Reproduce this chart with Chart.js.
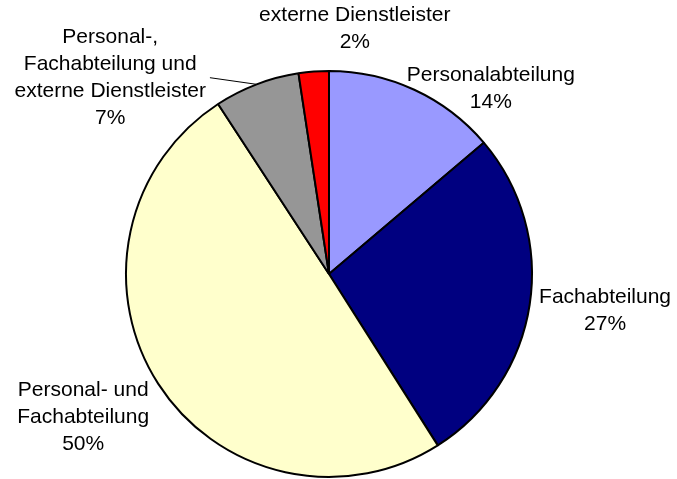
<!DOCTYPE html>
<html>
<head>
<meta charset="utf-8">
<script src="https://cdn.jsdelivr.net/npm/chart.js@4"></script>
<style>
  body { margin: 0; background: #fff; }
  #wrap { width: 677px; height: 479px; }
</style>
</head>
<body>
<div id="wrap"><canvas id="pie" width="677" height="479"></canvas></div>
<script>
// daten
const categories = ['Personalabteilung', 'Fachabteilung', 'Personal- und Fachabteilung',
  'Personal-, Fachabteilung und externe Dienstleister', 'externe Dienstleister'];
const values = [13.8, 27.2, 49.8, 6.8, 2.4];
const labelLines = [
  ['Personalabteilung'],
  ['Fachabteilung'],
  ['Personal- und', 'Fachabteilung'],
  ['Personal-,', 'Fachabteilung und', 'externe Dienstleister'],
  ['externe Dienstleister']
];
const colors = ['#9999FF', '#000080', '#FFFFCC', '#969696', '#FF0000'];

// wo die beschriftung sitzt: winkel (grad ab 12 uhr) und abstand relativ zum radius
const labelAngle = [41.2, 97.6, 239.8, 311.9, 6.0];
const labelDist = [1.21, 1.372, 1.401, 1.448, 1.217];
const leader = [false, false, false, true, false];

const total = values.reduce((a, b) => a + b, 0);

const labelPlugin = {
  id: 'pieLabels',
  afterDatasetsDraw(chart) {
    const ctx = chart.ctx;
    const arcs = chart.getDatasetMeta(0).data;
    const lh = 27;
    ctx.save();
    ctx.font = '21px "Liberation Sans", Arial, sans-serif';
    ctx.fillStyle = '#000';
    ctx.textAlign = 'center';
    ctx.textBaseline = 'middle';
    arcs.forEach((arc, i) => {
      const r = arc.outerRadius;
      const a = labelAngle[i] * Math.PI / 180;
      const cx = arc.x + Math.sin(a) * r * labelDist[i];
      const cy = arc.y - Math.cos(a) * r * labelDist[i];
      const lines = labelLines[i].concat([Math.round(values[i] / total * 100) + '%']);
      const y0 = cy - (lines.length - 1) * lh / 2;
      let maxW = 0;
      lines.forEach((t, k) => {
        ctx.fillText(t, cx, y0 + k * lh);
        maxW = Math.max(maxW, ctx.measureText(t).width);
      });
      if (leader[i]) {
        // linie zum segment
        const mid = (arc.startAngle + arc.endAngle) / 2;
        const ex = arc.x + Math.cos(mid) * r;
        const ey = arc.y + Math.sin(mid) * r;
        ctx.strokeStyle = '#000';
        ctx.lineWidth = 1;
        ctx.beginPath();
        ctx.moveTo(cx + maxW / 2 + 4, cy);
        ctx.lineTo(ex, ey);
        ctx.stroke();
      }
    });
    ctx.restore();
  }
};

new Chart(document.getElementById('pie'), {
  type: 'pie',
  data: {
    labels: categories,
    datasets: [{
      data: values,
      backgroundColor: colors,
      borderColor: '#000',
      borderWidth: 2
    }]
  },
  options: {
    responsive: false,
    animation: false,
    radius: 203,
    layout: { padding: { left: 0, right: 19, top: 69, bottom: 0 } },
    plugins: {
      legend: { display: false },
      tooltip: { enabled: false }
    }
  },
  plugins: [labelPlugin]
});
</script>
</body>
</html>
